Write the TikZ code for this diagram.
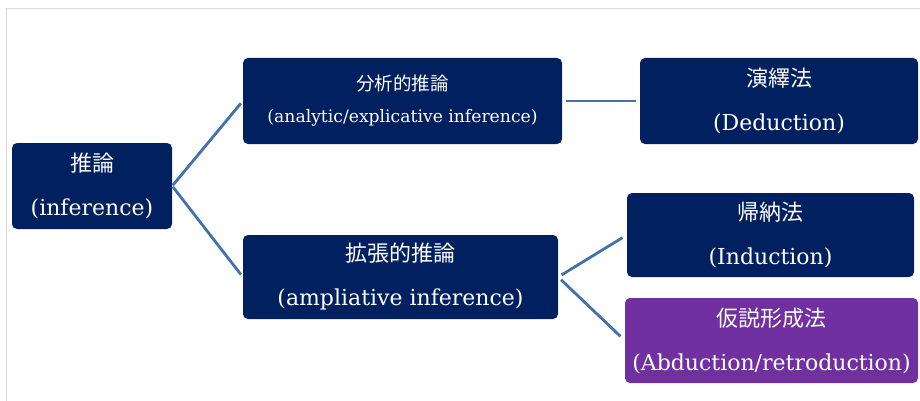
\documentclass[tikz,border=0pt]{standalone}
\usepackage{fontspec}
\setmainfont{DejaVu Serif}
\newfontfamily\cjk{Noto Sans CJK JP}
\usepackage{tikz}
\usetikzlibrary{positioning}

\definecolor{navybox}{HTML}{002060}
\definecolor{purplebox}{HTML}{7030A0}
\definecolor{linkblue}{HTML}{4271AD}
\definecolor{framegray}{HTML}{D9D9D9}

\begin{document}
\begin{tikzpicture}[
        x=1pt, y=-1pt,
        box/.style={
            rectangle,
            fill=navybox,
            rounded corners=5pt,
            text=white,
            minimum height=86pt,
            inner sep=0pt,
            align=center,
            font=\fontsize{22pt}{44pt}\selectfont
        },
        smallbox/.style={box, font=\fontsize{17.2pt}{32pt}\selectfont},
        link/.style={draw=linkblue, line width=2.8pt}
    ]

    \useasboundingbox (0,0) rectangle (920,401);
    \draw[framegray, line width=1pt] (6,401) -- (6,9) -- (920,9);

    \node[box, minimum width=160pt] (root) at (92,186) {{\cjk 推論}\\(inference)};
    \node[smallbox, minimum width=319pt] (analytic) at (402.5,101)
        {{\cjk\fontsize{18.5pt}{32pt}\selectfont 分析的推論}\\(analytic/explicative inference)};
    \node[box, minimum width=278pt] (deduction) at (779,101) {{\cjk 演繹法}\\(Deduction)};
    \node[box, minimum width=315pt, minimum height=84pt] (ampliative) at (400.5,277)
        {{\cjk 拡張的推論}\\(ampliative inference)};
    \node[box, minimum width=287pt, minimum height=84pt] (induction) at (770.5,235)
        {{\cjk 帰納法}\\(Induction)};
    \node[box, fill=purplebox, minimum width=293pt, minimum height=85pt] (abduction) at (771.5,340.5)
        {{\cjk 仮説形成法}\\(Abduction/retroduction)};

    \draw[link, shorten <=1pt, shorten >=3pt] (root.east) -- (analytic.west);
    \draw[link, shorten <=1pt, shorten >=3pt] (root.east) -- (ampliative.west);
    \draw[link, shorten <=4pt, shorten >=4pt] (analytic.east) -- (deduction.west);
    \draw[link, shorten <=4pt, shorten >=5pt] (ampliative.east) -- (induction.west);
    \draw[link, shorten <=4pt, shorten >=6pt] (ampliative.east) -- (abduction.west);

\end{tikzpicture}
\end{document}
